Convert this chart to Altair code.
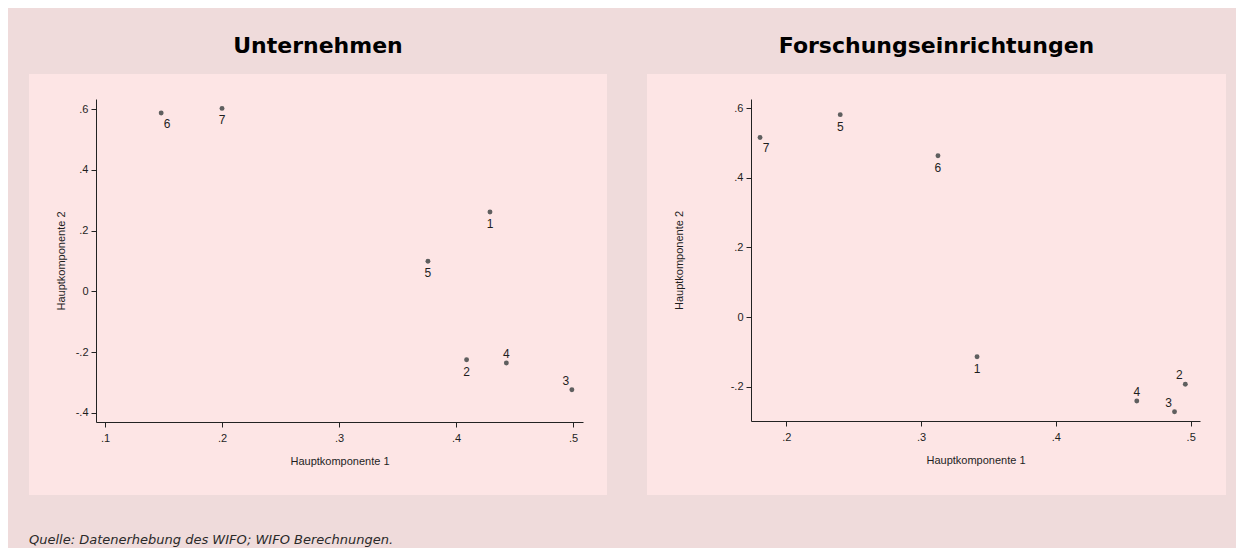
import altair as alt
import pandas as pd

# ---- data ----
punkte = ["1", "2", "3", "4", "5", "6", "7"]

unt_pk1 = [0.429, 0.409, 0.499, 0.443, 0.376, 0.148, 0.200]
unt_pk2 = [0.261, -0.225, -0.324, -0.236, 0.099, 0.587, 0.602]
unt_lage = [6, 6, 11, 12, 6, 5, 6]          # label clock position

for_pk1 = [0.3415, 0.496, 0.488, 0.460, 0.240, 0.3125, 0.1805]
for_pk2 = [-0.114, -0.193, -0.272, -0.241, 0.581, 0.463, 0.5155]
for_lage = [6, 11, 11, 12, 6, 6, 5]

unt_xticks = [0.1, 0.2, 0.3, 0.4, 0.5]
unt_yticks = [-0.4, -0.2, 0, 0.2, 0.4, 0.6]
for_xticks = [0.2, 0.3, 0.4, 0.5]
for_yticks = [-0.2, 0, 0.2, 0.4, 0.6]

titel = ["Unternehmen", "Forschungseinrichtungen"]
x_titel = "Hauptkomponente 1"
y_titel = "Hauptkomponente 2"
quelle = "Quelle: Datenerhebung des WIFO; WIFO Berechnungen."

# ---- styling ----
OUTER = "#EFDBDB"
INNER = "#FDE5E5"
DOT = "#5F5F5F"
INK = "#1E1E1E"
AXIS_FONT = "Liberation Sans"

OFFSETS = {5: (6, 11), 6: (0, 12), 11: (-6, -9), 12: (0, -9)}

LABEL_EXPR = ("datum.value == 0 ? '0' : (datum.value < 0 ? '-' : '') + "
              "replace(format(abs(datum.value), '.1f'), '0.', '.')")


def panel(title, xs, ys, lage, xticks, yticks, xdom, ydom, W, H,
          box_x0, box_x1, anchor_x0, anchor_x1, ytitle_x, title_x, footer=False):
    df = pd.DataFrame({"pk1": xs, "pk2": ys, "nr": punkte, "lage": lage})
    one = pd.DataFrame({"d": [0]})

    x = alt.X("pk1:Q",
              scale=alt.Scale(domain=xdom, nice=False, zero=False),
              axis=alt.Axis(values=xticks, labelExpr=LABEL_EXPR, title=x_titel,
                            titleY=39, titleBaseline="middle", labelPadding=5,
                            zindex=2))
    y = alt.Y("pk2:Q",
              scale=alt.Scale(domain=ydom, nice=False, zero=False),
              axis=alt.Axis(values=yticks, labelExpr=LABEL_EXPR, title=y_titel,
                            titleX=ytitle_x, titleY=H / 2, titleBaseline="middle",
                            labelPadding=3, zindex=2))

    anchor = alt.Chart(one).mark_rect(opacity=0, color=OUTER).encode(
        x=alt.value(anchor_x0), x2=alt.value(anchor_x1),
        y=alt.value(-90), y2=alt.value(441))
    box = alt.Chart(one).mark_rect(color=INNER).encode(
        x=alt.value(box_x0), x2=alt.value(box_x1),
        y=alt.value(-25), y2=alt.value(396))
    head = alt.Chart(pd.DataFrame({"t": [title]})).mark_text(
        align="center", baseline="alphabetic", font="DejaVu Sans",
        fontSize=22, fontWeight="bold", color="#000000").encode(
        x=alt.value(title_x), y=alt.value(-46), text="t:N")

    base = alt.Chart(df)
    dots = base.mark_circle(size=24, color=DOT, opacity=1).encode(x=x, y=y)

    layers = [dots, anchor, box, head]
    for k in sorted(set(lage)):
        dx, dy = OFFSETS[k]
        layers.append(
            base.transform_filter(alt.datum.lage == k)
            .mark_text(dx=dx, dy=dy, fontSize=12, font=AXIS_FONT, color=INK,
                       align="center", baseline="middle")
            .encode(x=x, y=y, text="nr:N"))
    # dots again on top of the box
    layers.append(dots)

    if footer:
        layers.append(
            alt.Chart(pd.DataFrame({"q": [quelle]}))
            .mark_text(align="left", baseline="alphabetic", font="DejaVu Sans",
                       fontSize=13, fontStyle="italic", color="#2A2A2A")
            .encode(x=alt.value(-67), y=alt.value(445), text="q:N"))

    return alt.layer(*layers).properties(width=W, height=H)


left = panel(titel[0], unt_pk1, unt_pk2, unt_lage, unt_xticks, unt_yticks,
             [0.0923, 0.5085], [-0.43, 0.633], 487, 323,
             box_x0=-67, box_x1=511, anchor_x0=-87, anchor_x1=0,
             ytitle_x=-35, title_x=222, footer=True)

right = panel(titel[1], for_pk1, for_pk2, for_lage, for_xticks, for_yticks,
              [0.1738, 0.5069], [-0.2986, 0.626], 449, 322,
              box_x0=-104, box_x1=475, anchor_x0=0, anchor_x1=484,
              ytitle_x=-72, title_x=185.5)

chart = alt.hconcat(left, right, spacing=38).properties(
    padding=0, background=OUTER
).configure_view(stroke="transparent").configure_axis(
    grid=False,
    domainColor="#222222", tickColor="#222222", tickSize=5,
    labelFont=AXIS_FONT, labelFontSize=11, labelColor=INK,
    titleFont=AXIS_FONT, titleFontSize=11, titleFontWeight="normal", titleColor=INK
)

chart.save("out.html", embed_options={"renderer": "svg", "actions": False})
